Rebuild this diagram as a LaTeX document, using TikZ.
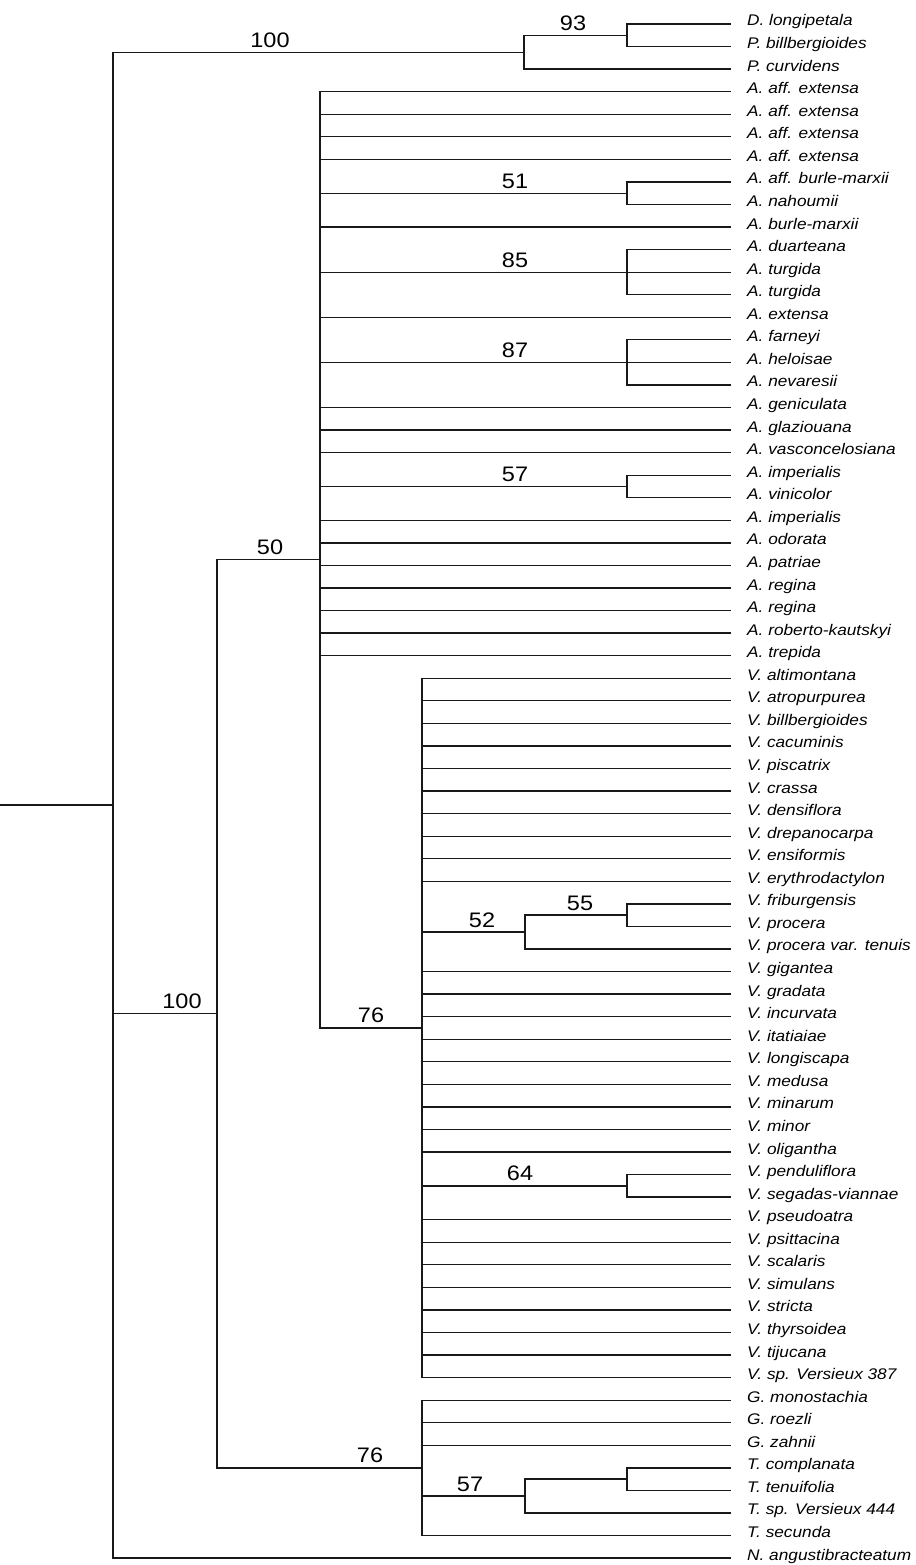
\documentclass[tikz,border=0pt]{standalone}
\usepackage{fontspec}
\newfontfamily\treefont{Liberation Sans}[FakeStretch=1.12]
\usepackage{tikz}
\usetikzlibrary{calc}

\begin{document}
\begin{tikzpicture}[
  x=1pt, y=-1pt,
  branch/.style={draw=black!90, line width=1.3pt, line cap=rect},
  taxon/.style={anchor=base west, inner sep=0pt,
    font=\treefont\itshape\fontsize{15.4}{16}\selectfont},
  boot/.style={anchor=base, inner sep=0pt,
    font=\treefont\fontsize{21}{22}\selectfont}
]
\useasboundingbox (0,0) rectangle (915,1565);

% leaves: tips and names
\foreach \name [count=\i] in {D. longipetala, P. billbergioides, P. curvidens,
  A. aff. extensa, A. aff. extensa, A. aff. extensa, A. aff. extensa,
  A. aff. burle-marxii, A. nahoumii, A. burle-marxii, A. duarteana,
  A. turgida, A. turgida, A. extensa, A. farneyi, A. heloisae, A. nevaresii,
  A. geniculata, A. glaziouana, A. vasconcelosiana, A. imperialis,
  A. vinicolor, A. imperialis, A. odorata, A. patriae, A. regina, A. regina,
  A. roberto-kautskyi, A. trepida, V. altimontana, V. atropurpurea,
  V. billbergioides, V. cacuminis, V. piscatrix, V. crassa, V. densiflora,
  V. drepanocarpa, V. ensiformis, V. erythrodactylon, V. friburgensis,
  V. procera, V. procera var. tenuis, V. gigantea, V. gradata, V. incurvata,
  V. itatiaiae, V. longiscapa, V. medusa, V. minarum, V. minor, V. oligantha,
  V. penduliflora, V. segadas-viannae, V. pseudoatra, V. psittacina,
  V. scalaris, V. simulans, V. stricta, V. thyrsoidea, V. tijucana,
  V. sp. Versieux 387, G. monostachia, G. roezli, G. zahnii, T. complanata,
  T. tenuifolia, T. sp. Versieux 444, T. secunda, N. angustibracteatum} {
  \coordinate (t\i) at (730, {24+(\i-1)*22.56});
  \node[taxon] (n\i) at (747, {26+(\i-1)*22.56}) {\name};
}

% internal nodes
\coordinate (R0)   at (0, 805.14);
\coordinate (R)    at (113, 805.14);
\coordinate (top)  at (524, 52.2);
\coordinate (c93)  at (627, 35.28);
\coordinate (N217) at (217, 1013.82);
\coordinate (A)    at (320, 559.8);
\coordinate (c51)  at (627, 193.2);
\coordinate (c85)  at (627, 272.16);
\coordinate (c87)  at (627, 362.4);
\coordinate (c57a) at (627, 486.48);
\coordinate (V)    at (422, 1027.92);
\coordinate (c52)  at (525, 932.04);
\coordinate (c55)  at (627, 915.12);
\coordinate (c64)  at (627, 1185.84);
\coordinate (GT)   at (422, 1467.84);
\coordinate (c57b) at (525, 1496.04);
\coordinate (cT)   at (627, 1479.12);

% branches
\draw[branch] (R0) -- (R);
\foreach \p/\c in {R/top, R/N217, R/t69,
  top/c93, top/t3, c93/t1, c93/t2,
  N217/A, N217/GT,
  A/t4, A/t5, A/t6, A/t7, A/c51, A/t10, A/c85, A/t14, A/c87,
  A/t18, A/t19, A/t20, A/c57a, A/t23, A/t24, A/t25, A/t26, A/t27, A/t28,
  A/t29, A/V,
  c51/t8, c51/t9, c85/t11, c85/t12, c85/t13, c87/t15, c87/t16, c87/t17,
  c57a/t21, c57a/t22,
  V/t30, V/t31, V/t32, V/t33, V/t34, V/t35, V/t36, V/t37, V/t38, V/t39,
  V/c52, V/t43, V/t44, V/t45, V/t46, V/t47, V/t48, V/t49, V/t50, V/t51,
  V/c64, V/t54, V/t55, V/t56, V/t57, V/t58, V/t59, V/t60, V/t61,
  c52/c55, c52/t42, c55/t40, c55/t41, c64/t52, c64/t53,
  GT/t62, GT/t63, GT/t64, GT/c57b, GT/t68,
  c57b/cT, c57b/t67, cT/t65, cT/t66}
  \draw[branch] (\p) |- (\c);

% support values
\node[boot] (b100a) at (270, 47.2)    {100};
\node[boot] (b93)   at (573, 30.28)   {93};
\node[boot] (b51)   at (515, 188.2)   {51};
\node[boot] (b85)   at (515, 267.16)  {85};
\node[boot] (b87)   at (515, 357.4)   {87};
\node[boot] (b57a)  at (515, 481.48)  {57};
\node[boot] (b50)   at (270, 554.8)   {50};
\node[boot] (b55)   at (580, 910.12)  {55};
\node[boot] (b52)   at (482, 927.04)  {52};
\node[boot] (b64)   at (520, 1180.84) {64};
\node[boot] (b76a)  at (371, 1022.92) {76};
\node[boot] (b100b) at (182, 1008.82) {100};
\node[boot] (b76b)  at (370, 1462.84) {76};
\node[boot] (b57b)  at (470, 1491.04) {57};
\end{tikzpicture}
\end{document}
